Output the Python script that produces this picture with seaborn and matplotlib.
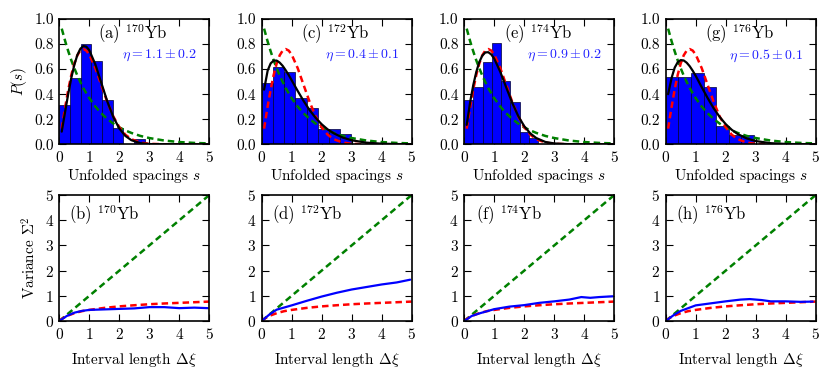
import numpy as np
import pandas as pd
import matplotlib
matplotlib.use("Agg")
import matplotlib.pyplot as plt
import seaborn as sns

# ---------------- data ----------------
isotopes = ["170", "172", "174", "176"]
top_letters = ["a", "c", "e", "g"]
bot_letters = ["b", "d", "f", "h"]
eta_text = [r"$\eta=1.1\pm0.2$", r"$\eta=0.4\pm0.1$", r"$\eta=0.9\pm0.2$", r"$\eta=0.5\pm0.1$"]

bin_width = [0.355, 0.374, 0.307, 0.42]
hist_170 = [0.31, 0.53, 0.80, 0.665, 0.355, 0.13, 0.0, 0.04]
hist_172 = [0.49, 0.615, 0.575, 0.37, 0.29, 0.12, 0.12, 0.08]
hist_174 = [0.355, 0.455, 0.655, 0.805, 0.505, 0.34, 0.10, 0.05]
hist_176 = [0.535, 0.535, 0.57, 0.455, 0.15, 0.075, 0.075]

s_grid = [0.08, 0.2, 0.3, 0.4, 0.5, 0.6, 0.7, 0.8, 0.9, 1.0, 1.2, 1.4, 1.6, 1.8,
          2.0, 2.2, 2.4, 2.7, 3.0, 3.5, 4.0, 4.5, 5.0]
poisson_ps = [0.923, 0.819, 0.741, 0.670, 0.607, 0.549, 0.497, 0.449, 0.407, 0.368,
              0.301, 0.247, 0.202, 0.165, 0.135, 0.111, 0.091, 0.067, 0.050, 0.030,
              0.018, 0.011, 0.007]
wigner_ps = [0.125, 0.304, 0.439, 0.554, 0.645, 0.710, 0.748, 0.760, 0.748, 0.716,
             0.608, 0.472, 0.337, 0.222, 0.136, 0.077, 0.041, 0.014, 0.004, 0.0004,
             0.0, 0.0, 0.0]
brody_170 = [0.101, 0.270, 0.407, 0.531, 0.634, 0.712, 0.762, 0.784, 0.779, 0.750,
             0.638, 0.490, 0.341, 0.217, 0.126, 0.067, 0.033, 0.009, 0.002, 0.0002,
             0.0, 0.0, 0.0]
brody_172 = [0.436, 0.589, 0.646, 0.668, 0.668, 0.652, 0.626, 0.591, 0.553, 0.511,
             0.426, 0.345, 0.272, 0.211, 0.160, 0.119, 0.088, 0.054, 0.032, 0.013,
             0.005, 0.002, 0.0006]
brody_174 = [0.155, 0.343, 0.473, 0.577, 0.656, 0.707, 0.733, 0.735, 0.717, 0.683,
             0.578, 0.453, 0.330, 0.225, 0.144, 0.087, 0.050, 0.019, 0.007, 0.0009,
             0.0001, 0.0, 0.0]
brody_176 = [0.40, 0.533, 0.612, 0.655, 0.672, 0.669, 0.651, 0.623, 0.587, 0.546,
             0.456, 0.368, 0.287, 0.218, 0.161, 0.116, 0.082, 0.047, 0.026, 0.009,
             0.003, 0.0008, 0.0002]

L_poisson = [0.0, 5.0]
sigma_poisson = [0.0, 5.0]
L_goe = [0.0, 0.1, 0.25, 0.5, 0.75, 1.0, 1.5, 2.0, 2.5, 3.0, 3.5, 4.0, 4.5, 5.0]
sigma_goe = [0.0, 0.095, 0.2, 0.31, 0.39, 0.44, 0.52, 0.58, 0.625, 0.665, 0.695, 0.72, 0.745, 0.77]

L_170 = [0.0, 0.25, 0.5, 0.75, 1.0, 1.5, 2.0, 2.5, 3.0, 3.5, 4.0, 4.5, 4.95]
sigma_170 = [0.0, 0.2, 0.33, 0.40, 0.44, 0.46, 0.48, 0.50, 0.55, 0.55, 0.51, 0.53, 0.51]
L_172 = [0.0, 0.25, 0.5, 1.0, 1.5, 2.0, 2.5, 3.0, 3.5, 4.0, 4.5, 4.95]
sigma_172 = [0.0, 0.25, 0.45, 0.62, 0.80, 0.97, 1.12, 1.25, 1.35, 1.45, 1.53, 1.64]
L_174 = [0.0, 0.25, 0.5, 1.0, 1.5, 2.0, 2.5, 3.0, 3.5, 3.9, 4.2, 4.5, 4.95]
sigma_174 = [0.0, 0.2, 0.30, 0.47, 0.57, 0.63, 0.72, 0.78, 0.85, 0.95, 0.92, 0.95, 0.98]
L_176 = [0.0, 0.25, 0.5, 1.0, 1.5, 2.0, 2.5, 2.8, 3.2, 3.5, 4.0, 4.5, 4.9]
sigma_176 = [0.0, 0.22, 0.40, 0.62, 0.70, 0.78, 0.85, 0.87, 0.83, 0.78, 0.78, 0.76, 0.77]

hists = [hist_170, hist_172, hist_174, hist_176]
brodys = [brody_170, brody_172, brody_174, brody_176]
Ls = [L_170, L_172, L_174, L_176]
sigmas = [sigma_170, sigma_172, sigma_174, sigma_176]

# ---------------- style ----------------
sns.set_style("ticks")
plt.rcParams.update({
    "font.family": ["cmr10", "DejaVu Serif"],
    "mathtext.fontset": "cm",
    "axes.formatter.use_mathtext": True,
    "font.size": 11,
    "xtick.labelsize": 11,
    "ytick.labelsize": 11,
    "xtick.direction": "in",
    "ytick.direction": "in",
    "xtick.top": True,
    "ytick.right": True,
    "xtick.major.size": 5,
    "ytick.major.size": 5,
    "xtick.major.pad": 4,
    "ytick.major.pad": 4,
    "axes.edgecolor": "black",
    "axes.linewidth": 1.2,
    "xtick.color": "black",
    "ytick.color": "black",
    "axes.labelcolor": "black",
    "text.color": "black",
})

fig = plt.figure(figsize=(8.31, 3.76), dpi=100)
lefts = [0.0714, 0.3149, 0.5587, 0.8011]
w = 0.1805
dash = (0, (2.6, 1.6))

for i in range(4):
    # ---- top row: spacing distribution
    ax = fig.add_axes([lefts[i], 0.6162, w, 0.3333])
    h = hists[i]
    bw = bin_width[i]
    centers = [(k + 0.5) * bw for k in range(len(h))]
    edges = [k * bw for k in range(len(h) + 1)]
    df = pd.DataFrame({"s": centers, "p": h})
    sns.histplot(data=df, x="s", weights="p", bins=edges, stat="count",
                 color="#0000ff", alpha=1.0, edgecolor="#000033", linewidth=0.5, ax=ax)
    sns.lineplot(x=s_grid, y=poisson_ps, color="green", linestyle=dash, lw=1.8, ax=ax)
    sns.lineplot(x=s_grid, y=wigner_ps, color="red", linestyle=dash, lw=1.8, ax=ax)
    sns.lineplot(x=s_grid, y=brodys[i], color="black", lw=1.6, ax=ax)
    ax.set_xlim(0, 5)
    ax.set_ylim(0, 1.0)
    ax.set_xticks([0, 1, 2, 3, 4, 5])
    ax.set_yticks([0.0, 0.2, 0.4, 0.6, 0.8, 1.0])
    ax.set_yticklabels(["0.0", "0.2", "0.4", "0.6", "0.8", "1.0"])
    ax.set_xlabel(r"Unfolded spacings $s$", labelpad=1)
    ax.set_ylabel(r"$P(s)$" if i == 0 else "")
    ax.text(0.49, 0.88, "(%s) $^{%s}$Yb" % (top_letters[i], isotopes[i]),
            transform=ax.transAxes, ha="center", va="center", fontsize=12)
    ax.text(0.67, 0.71, eta_text[i], transform=ax.transAxes, ha="center",
            va="center", color="#2222ff", fontsize=10)

    # ---- bottom row: number variance
    ax2 = fig.add_axes([lefts[i], 0.1463, w, 0.335])
    sns.lineplot(x=L_poisson, y=sigma_poisson, color="green", linestyle=dash, lw=1.8, ax=ax2)
    sns.lineplot(x=L_goe, y=sigma_goe, color="red", linestyle=dash, lw=1.8, ax=ax2)
    sns.lineplot(x=Ls[i], y=sigmas[i], color="blue", lw=1.6, ax=ax2)
    ax2.set_xlim(0, 5)
    ax2.set_ylim(0, 5)
    ax2.set_xticks([0, 1, 2, 3, 4, 5])
    ax2.set_yticks([0, 1, 2, 3, 4, 5])
    ax2.set_xlabel(r"Interval length $\Delta\xi$", labelpad=7)
    ax2.set_ylabel(r"Variance $\Sigma^2$" if i == 0 else "")
    ax2.text(0.30, 0.84, "(%s) $^{%s}$Yb" % (bot_letters[i], isotopes[i]),
             transform=ax2.transAxes, ha="center", va="center", fontsize=12)

fig.savefig("out.png", dpi=100)
